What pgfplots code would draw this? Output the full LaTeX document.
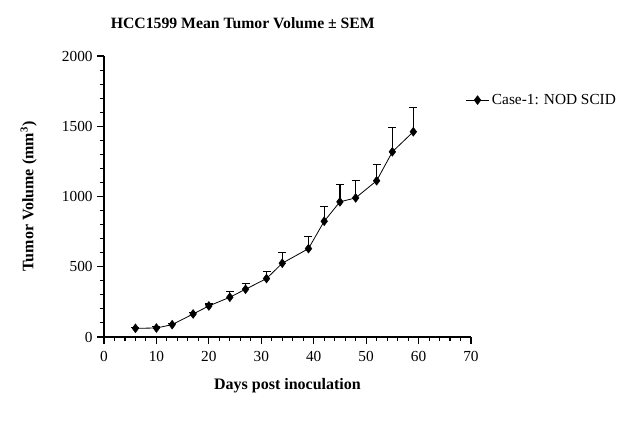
\documentclass[border=0pt]{standalone}
\usepackage{fontspec}
\setmainfont{Liberation Serif}
\usepackage{pgfplots}
\pgfplotsset{compat=1.18}

\begin{document}
\begin{tikzpicture}[x=1pt,y=1pt]
% page frame
\useasboundingbox (-78pt,-66pt) rectangle (392.25pt,252.75pt);
\begin{axis}[
  at={(0,0)}, anchor=origin,
  scale only axis,
  width=275.25pt, height=210.75pt,
  xmin=0, xmax=70, ymin=0, ymax=2000,
  xtick={0,10,...,70}, ytick={0,500,...,2000},
  minor x tick num=4, minor y tick num=4,
  axis x line*=bottom, axis y line*=left,
  axis line style={line width=0.8pt, -},
  tick style={black, line width=0.8pt},
  tick align=outside,
  major tick length=5pt, minor tick length=3pt,
  tick label style={font=\fontsize{11.5}{13}\selectfont},
  xticklabel style={yshift=-2pt},
  /pgf/number format/assume math mode=true,
  /pgf/number format/1000 sep={},
  title={\fontsize{11.8}{15}\selectfont\bfseries HCC1599 Mean Tumor Volume ± SEM},
  title style={at={(0.5,1)}, anchor=south, yshift=11pt, xshift=-33.5pt},
  xlabel={\fontsize{12}{14}\selectfont\bfseries Days post inoculation},
  ylabel={\fontsize{12}{14}\selectfont\bfseries Tumor Volume (mm\textsuperscript{3})},
  xlabel style={yshift=-6pt},
  ylabel style={yshift=12pt},
  legend style={draw=none, fill=none, at={(0.985,0.843)}, anchor=west,
    font=\fontsize{11.5}{13}\selectfont, inner sep=0pt,
    /tikz/every even column/.append style={column sep=6pt}},
  legend cell align=left,
  legend image post style={xshift=-1pt},
  clip=false,
]
\addplot[black, line width=0.6pt, mark=diamond*, mark size=3.3pt,
  mark options={solid, fill=black, line width=0.4pt},
  error bars/.cd, y dir=plus, y explicit,
  error bar style={line width=0.9pt},
  error mark options={rotate=90, mark size=3pt, line width=0.9pt}]
  table[x=day, y=vol, y error=sem] {
  day vol  sem
  6   62   8
  10  64   8
  13  88   10
  17  164  12
  20  221  14
  24  283  40
  27  340  38
  31  416  50
  34  525  78
  39  629  86
  42  824  107
  45  962  124
  48  990  124
  52  1112 118
  55  1318 174
  59  1461 173
  };
\addlegendentry{Case-1: NOD SCID}
\end{axis}
\end{tikzpicture}
\end{document}
